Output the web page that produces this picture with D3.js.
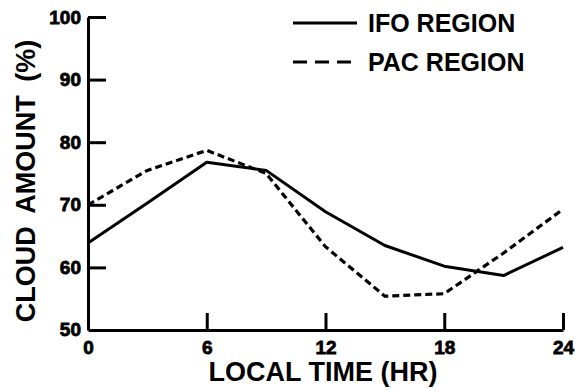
<!DOCTYPE html>
<html>
<head>
<meta charset="utf-8">
<script src="https://cdn.jsdelivr.net/npm/d3@7"></script>
<style>
  html, body { margin: 0; padding: 0; background: #fff; }
  svg { display: block; }
  text { font-family: "Liberation Sans", Arial, sans-serif; font-weight: bold; fill: #000; }
</style>
</head>
<body>
<svg id="chart" width="575" height="391"></svg>
<script>
// local time (hr) and cloud amount (%)
const hours = [0, 3, 6, 9, 12, 15, 18, 21, 24];
const ifoValues = [63.9, 70.3, 76.8, 75.5, 68.9, 63.5, 60.2, 58.7, 63.2];
const pacValues = [70.0, 75.5, 78.7, 75.0, 63.3, 55.4, 55.8, 62.3, 69.3];
const xTicks = [0, 6, 12, 18, 24];
const yTicks = [50, 60, 70, 80, 90, 100];
const seriesNames = ["IFO REGION", "PAC REGION"];

const svg = d3.select("#chart");
const margin = { top: 17, right: 12, bottom: 61, left: 88 };
const width = 575 - margin.left - margin.right,
  height = 391 - margin.top - margin.bottom;

const g = svg.append("g").attr("transform", "translate(" + margin.left + "," + margin.top + ")");

const x = d3.scaleLinear().domain([0, 24]).range([0, width]);
const y = d3.scaleLinear().domain([50, 100]).range([height, 0]);

// axes with inward ticks
const xAxis = g.append("g")
  .attr("transform", "translate(0," + height + ")")
  .call(d3.axisBottom(x).tickValues(xTicks).tickSizeInner(-17).tickSizeOuter(0).tickPadding(11));

const yAxis = g.append("g")
  .call(d3.axisLeft(y).tickValues(yTicks.slice(1)).tickSizeInner(-18).tickSizeOuter(0).tickPadding(7));

// 50 label sits at the corner without a tick
yAxis.append("text")
  .attr("x", -7).attr("y", y(50)).attr("dy", "0.32em")
  .attr("text-anchor", "end").text(yTicks[0]);

[xAxis, yAxis].forEach(function(a) {
  a.attr("font-family", "Liberation Sans, Arial, sans-serif").attr("font-size", 19);
  a.select(".domain").attr("stroke", "#000").attr("stroke-width", 3);
  a.selectAll(".tick line").attr("stroke", "#000").attr("stroke-width", 3);
  a.selectAll("text")
    .attr("fill", "#000")
    .attr("stroke", "#000")
    .attr("stroke-width", 0.8)
    .style("font-weight", "bold");
});
xAxis.select(".tick line").remove();

const line = d3.line()
  .x(function(d, i) { return x(hours[i]); })
  .y(function(d) { return y(d); });

g.append("path")
  .datum(ifoValues)
  .attr("fill", "none")
  .attr("stroke", "#000")
  .attr("stroke-width", 3)
  .attr("stroke-linejoin", "round")
  .attr("d", line);

g.append("path")
  .datum(pacValues)
  .attr("fill", "none")
  .attr("stroke", "#000")
  .attr("stroke-width", 3.2)
  .attr("stroke-dasharray", "7,4")
  .attr("d", line);

// axis titles
svg.append("text")
  .attr("x", 323).attr("y", 381)
  .attr("text-anchor", "middle")
  .style("font-size", "27px")
  .text("LOCAL TIME (HR)");

svg.append("text")
  .attr("transform", "translate(35,181) rotate(-90)")
  .attr("text-anchor", "middle")
  .style("font-size", "27px")
  .style("word-spacing", "6px")
  .text("CLOUD AMOUNT (%)");

// legend
const legend = svg.append("g");
const legendY = [23, 62];
seriesNames.forEach(function(name, i) {
  legend.append("line")
    .attr("x1", 293).attr("x2", 357)
    .attr("y1", legendY[i]).attr("y2", legendY[i])
    .attr("stroke", "#000").attr("stroke-width", 3)
    .attr("stroke-dasharray", i === 1 ? "14,8" : null);
  legend.append("text")
    .attr("x", 368).attr("y", legendY[i] + 9)
    .style("font-size", "25px")
    .text(name);
});
</script>
</body>
</html>
